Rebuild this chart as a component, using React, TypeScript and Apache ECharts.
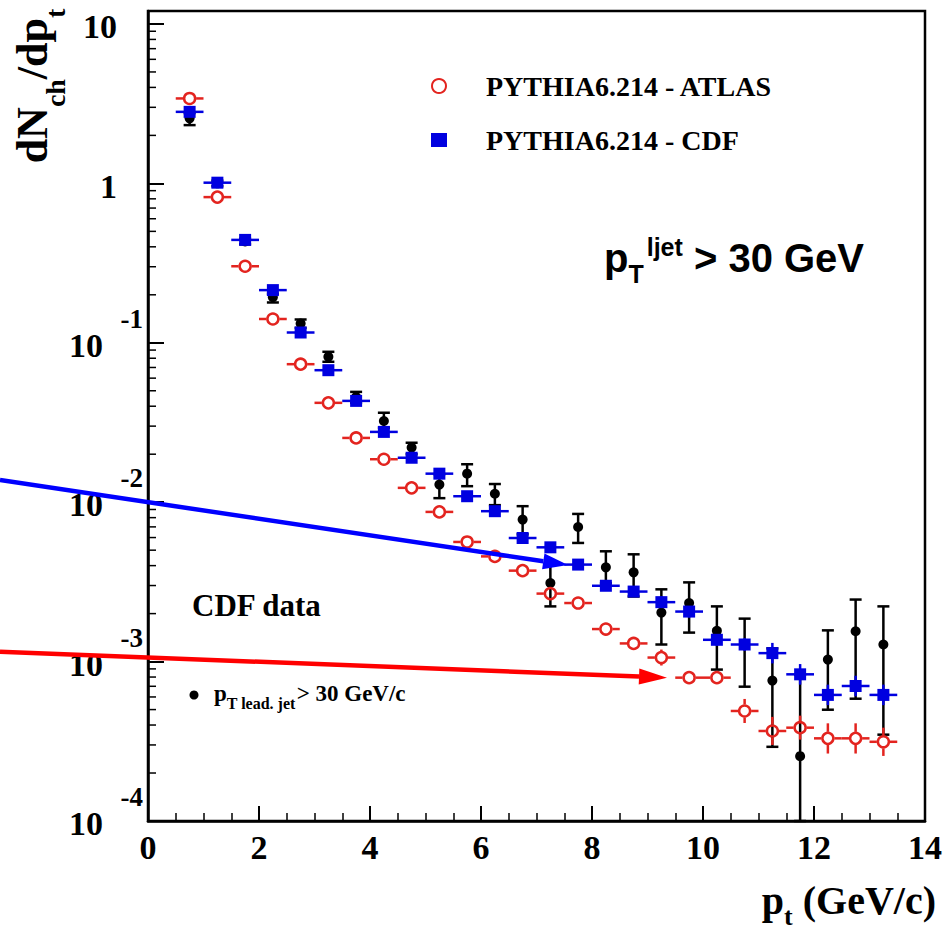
import React, { useEffect, useRef } from "react";
import * as echarts from "echarts";

// ---------------- data ----------------
const binCenters = [0.75, 1.25, 1.75, 2.25, 2.75, 3.25, 3.75, 4.25, 4.75, 5.25, 5.75, 6.25, 6.75, 7.25, 7.75, 8.25, 8.75, 9.25, 9.75, 10.25, 10.75, 11.25, 11.75, 12.25, 12.75, 13.25];
const binHalfWidth = 0.25;

// PYTHIA6.214 - ATLAS (red open circles)
const atlasValues = [3.41, 0.82, 0.302, 0.141, 0.0734, 0.042, 0.0253, 0.0186, 0.0123, 0.00869, 0.00563, 0.00457, 0.00372, 0.00267, 0.00233, 0.0016, 0.0013, 0.00106, 0.000793, 0.000793, 0.00049, 0.000367, 0.000385, 0.00033, 0.00033, 0.000314];
const atlasLow = [3.28, 0.79, 0.29, 0.136, 0.0705, 0.0403, 0.0243, 0.0178, 0.0118, 0.00832, 0.00537, 0.00434, 0.00352, 0.00245, 0.00216, 0.00147, 0.00119, 0.000945, 0.000728, 0.000728, 0.000412, 0.0003, 0.000324, 0.000265, 0.000265, 0.000256];
const atlasHigh = [3.55, 0.85, 0.315, 0.146, 0.0765, 0.0438, 0.0264, 0.0194, 0.0128, 0.00908, 0.0059, 0.00481, 0.00393, 0.0029, 0.00251, 0.00174, 0.00142, 0.00119, 0.000864, 0.000864, 0.000583, 0.00045, 0.000458, 0.00041, 0.00041, 0.000385];

// PYTHIA6.214 - CDF (blue squares)
const cdfMcValues = [2.81, 1.01, 0.442, 0.214, 0.116, 0.0673, 0.0432, 0.0276, 0.019, 0.0151, 0.0109, 0.00878, 0.00596, 0.00521, 0.00406, 0.00299, 0.00275, 0.00236, 0.00206, 0.00137, 0.00128, 0.00113, 0.000832, 0.000618, 0.000703, 0.000618];
const cdfMcLow = [2.73, 0.98, 0.429, 0.208, 0.113, 0.0653, 0.0419, 0.0268, 0.0184, 0.0147, 0.0106, 0.00852, 0.00579, 0.00506, 0.00394, 0.0029, 0.00267, 0.00217, 0.00189, 0.00126, 0.00117, 0.000974, 0.000717, 0.000533, 0.000606, 0.000533];
const cdfMcHigh = [2.89, 1.04, 0.455, 0.22, 0.119, 0.0693, 0.0445, 0.0284, 0.0196, 0.0156, 0.0112, 0.00904, 0.00614, 0.00537, 0.00418, 0.00308, 0.00283, 0.00257, 0.00225, 0.00149, 0.0014, 0.00131, 0.000965, 0.000717, 0.000815, 0.000717];

// CDF data (black dots)
const cdfDataValues = [2.56, 1.0, 0.432, 0.193, 0.132, 0.0816, 0.0457, 0.0323, 0.022, 0.0129, 0.0151, 0.0113, 0.00778, 0.00311, 0.00699, 0.0039, 0.00363, 0.00203, 0.00233, 0.00156, 0.00128, 0.00076, 0.000255, 0.00103, 0.00155, 0.00128];
const cdfDataLow = [2.32, 0.96, 0.415, 0.179, 0.124, 0.076, 0.042, 0.0293, 0.02, 0.0106, 0.0126, 0.00958, 0.00629, 0.00222, 0.00555, 0.0031, 0.00256, 0.00128, 0.00152, 0.000891, 0.000696, 0.000292, 0.0001, 0.000499, 0.000585, 0.000348];
const cdfDataHigh = [2.76, 1.04, 0.45, 0.203, 0.14, 0.0878, 0.0492, 0.0364, 0.0236, 0.015, 0.0173, 0.013, 0.00944, 0.00407, 0.00844, 0.00492, 0.00471, 0.00284, 0.00314, 0.00222, 0.00186, 0.00121, 0.000828, 0.00157, 0.00245, 0.00222];

const legendNames = ["PYTHIA6.214 - ATLAS", "PYTHIA6.214 - CDF"];
const dataName = "CDF data";
const xMin = 0;
const xMax = 14;
const xInterval = 2;
const yMin = 1e-4;
const yMax = 12.06;
const yExponentTicks = [-1, -2, -3, -4];
const minorDecades = [-4, -3, -2, -1, 0];
const minorMultipliers = [2, 3, 4, 5, 6, 7, 8, 9];

// ---------------- styles ----------------
const RED = "#e3241f";
const BLUE = "#0000e0";
const BLACK = "#000000";
const SERIF = "Liberation Serif";
const SANS = "Liberation Sans";

function errorSeries(name: string, values: number[], lows: number[], highs: number[], color: string, hbar: boolean, cap: number, gap: number) {
  return {
    type: "custom",
    name,
    silent: true,
    clip: false,
    data: binCenters.map((x, i) => [x, values[i], lows[i], highs[i]]),
    encode: { x: 0, y: 1 },
    renderItem: (params: any, api: any) => {
      const x = api.value(0);
      const v = api.value(1);
      const lo = api.value(2);
      const hi = api.value(3);
      const c = api.coord([x, v]);
      const t = api.coord([x, hi]);
      const b = api.coord([x, lo]);
      const style = { stroke: color, lineWidth: 2.5 };
      const ch: any[] = [];
      if (hbar) {
        const l = api.coord([x - binHalfWidth, v]);
        const r = api.coord([x + binHalfWidth, v]);
        ch.push({ type: "line", shape: { x1: l[0], y1: c[1], x2: c[0] - gap, y2: c[1] }, style });
        ch.push({ type: "line", shape: { x1: c[0] + gap, y1: c[1], x2: r[0], y2: c[1] }, style });
      }
      if (t[1] < c[1] - gap) ch.push({ type: "line", shape: { x1: c[0], y1: c[1] - gap, x2: c[0], y2: t[1] }, style });
      if (b[1] > c[1] + gap) ch.push({ type: "line", shape: { x1: c[0], y1: c[1] + gap, x2: c[0], y2: b[1] }, style });
      if (cap > 0) {
        ch.push({ type: "line", shape: { x1: c[0] - cap, y1: t[1], x2: c[0] + cap, y2: t[1] }, style });
        ch.push({ type: "line", shape: { x1: c[0] - cap, y1: b[1], x2: c[0] + cap, y2: b[1] }, style });
      }
      return { type: "group", children: ch };
    },
    z: 3,
  };
}

function arrow(x1: number, y1: number, x2: number, y2: number, color: string, headLen: number, headHalf: number, width: number) {
  const dx = x2 - x1;
  const dy = y2 - y1;
  const len = Math.sqrt(dx * dx + dy * dy);
  const ux = dx / len;
  const uy = dy / len;
  const nx = -uy;
  const ny = ux;
  const bx = x2 - ux * headLen;
  const by = y2 - uy * headLen;
  return [
    { type: "line", shape: { x1, y1, x2: bx, y2: by }, style: { stroke: color, lineWidth: width }, z: 100 },
    {
      type: "polygon",
      shape: { points: [[x2, y2], [bx + nx * headHalf, by + ny * headHalf], [bx - nx * headHalf, by - ny * headHalf]] },
      style: { fill: color },
      z: 100,
    },
  ];
}

function yLabel(v: number) {
  const l = Math.log10(v);
  const e = Math.round(l);
  if (Math.abs(l - e) > 1e-6) return "";
  if (e === 1) return "{plain|10}";
  if (e === 0) return "{plain|1}";
  return "{base|10}";
}

export default function App() {
  const ref = useRef<HTMLDivElement>(null);
  useEffect(() => {
    if (!ref.current) return;
    const chart = echarts.init(ref.current, null, { renderer: "svg" });
    const minorData: number[][] = [];
    minorDecades.forEach((d) => minorMultipliers.forEach((m) => minorData.push([0, m * Math.pow(10, d)])));

    const option: any = {
      animation: false,
      backgroundColor: "#ffffff",
      textStyle: { fontFamily: SERIF },
      grid: {
        left: 148,
        right: 24,
        top: 11,
        bottom: 111,
        show: true,
        borderColor: BLACK,
        borderWidth: 2.5,
        backgroundColor: "transparent",
        outerBoundsMode: "none",
      },
      legend: {
        show: true,
        orient: "vertical",
        left: 426,
        top: 67,
        itemWidth: 16,
        itemHeight: 14,
        itemGap: 26,
        selectedMode: false,
        data: legendNames,
        textStyle: { fontFamily: SERIF, fontWeight: "bold", fontSize: 28, color: BLACK, padding: [0, 0, 0, 34] },
      },
      xAxis: {
        type: "value",
        min: xMin,
        max: xMax,
        interval: xInterval,
        axisLine: { show: true, lineStyle: { color: BLACK, width: 2.5 } },
        axisTick: { show: true, inside: true, length: 15, lineStyle: { color: BLACK, width: 2 } },
        minorTick: { show: true, splitNumber: 4, length: 8, lineStyle: { color: BLACK, width: 1.5 } },
        splitLine: { show: false },
        minorSplitLine: { show: false },
        axisLabel: { margin: 9, fontSize: 34, fontFamily: SERIF, fontWeight: "bold", color: BLACK },
      },
      yAxis: {
        type: "log",
        logBase: 10,
        min: yMin,
        max: yMax,
        axisLine: { show: true, lineStyle: { color: BLACK, width: 2.5 } },
        axisTick: { show: true, inside: true, length: 16, lineStyle: { color: BLACK, width: 2 } },
        minorTick: { show: false },
        splitLine: { show: false },
        axisLabel: {
          margin: 5,
          formatter: yLabel,
          fontFamily: SERIF,
          fontWeight: "bold",
          color: BLACK,
          fontSize: 34,
          rich: {
            plain: { fontSize: 34, fontFamily: SERIF, fontWeight: "bold", color: BLACK, padding: [6, 26, 0, 0] },
            base: { fontSize: 34, fontFamily: SERIF, fontWeight: "bold", color: BLACK, padding: [5, 40, 0, 0] },
          },
        },
      },
      series: [
        {
          type: "custom",
          name: "minor-ticks",
          silent: true,
          clip: false,
          data: minorData,
          encode: { x: 0, y: 1 },
          renderItem: (params: any, api: any) => {
            const p = api.coord([api.value(0), api.value(1)]);
            return { type: "line", shape: { x1: p[0], y1: p[1], x2: p[0] + 8, y2: p[1] }, style: { stroke: BLACK, lineWidth: 1.5 } };
          },
        },
        {
          type: "custom",
          name: "y-exponents",
          silent: true,
          clip: false,
          data: yExponentTicks.map((e) => [0, Math.pow(10, e), e]),
          encode: { x: 0, y: 1 },
          renderItem: (params: any, api: any) => {
            const p = api.coord([api.value(0), api.value(1)]);
            return {
              type: "text",
              x: p[0] - 5,
              y: p[1] - 24,
              style: {
                text: String(api.value(2)),
                fontSize: 27,
                fontFamily: SERIF,
                fontWeight: "bold",
                fill: BLACK,
                align: "right",
                verticalAlign: "middle",
                textAlign: "right",
                textVerticalAlign: "middle",
              },
            };
          },
        },
        errorSeries(dataName + " errors", cdfDataValues, cdfDataLow, cdfDataHigh, BLACK, false, 6, 0),
        {
          type: "scatter",
          name: dataName,
          symbol: "circle",
          symbolSize: 10,
          itemStyle: { color: BLACK, opacity: 1 },
          data: binCenters.map((x, i) => [x, cdfDataValues[i]]),
          z: 4,
        },
        errorSeries(legendNames[0] + " errors", atlasValues, atlasLow, atlasHigh, RED, true, 0, 6.5),
        {
          type: "scatter",
          name: legendNames[0],
          symbol: "circle",
          symbolSize: 11,
          itemStyle: { color: "rgba(255,255,255,0)", borderColor: RED, borderWidth: 2.5, opacity: 1 },
          data: binCenters.map((x, i) => [x, atlasValues[i]]),
          z: 5,
        },
        errorSeries(legendNames[1] + " errors", cdfMcValues, cdfMcLow, cdfMcHigh, BLUE, true, 0, 0),
        {
          type: "scatter",
          name: legendNames[1],
          symbol: "rect",
          symbolSize: 12,
          itemStyle: { color: BLUE, opacity: 1 },
          data: binCenters.map((x, i) => [x, cdfMcValues[i]]),
          z: 6,
        },
      ],
      graphic: [
        // y axis title
        {
          type: "text",
          x: 10,
          y: 86,
          rotation: Math.PI / 2,
          style: {
            text: "{m|dN}{s|ch}{m|/dp}{s|t}",
            x: 0,
            y: 0,
            align: "center",
            verticalAlign: "top",
            textAlign: "center",
            textVerticalAlign: "top",
            rich: {
              m: { fontSize: 44, fontFamily: SERIF, fontWeight: "bold", fill: BLACK, verticalAlign: "top" },
              s: { fontSize: 28, fontFamily: SERIF, fontWeight: "bold", fill: BLACK, verticalAlign: "top", padding: [31, 0, 0, 0] },
            },
          },
        },
        // x axis title
        {
          type: "text",
          x: 936,
          y: 880,
          style: {
            text: "{m|p}{s|t}{m| (GeV/c)}",
            x: 0,
            y: 0,
            align: "right",
            verticalAlign: "top",
            textAlign: "right",
            textVerticalAlign: "top",
            rich: {
              m: { fontSize: 40, fontFamily: SERIF, fontWeight: "bold", fill: BLACK, verticalAlign: "top" },
              s: { fontSize: 26, fontFamily: SERIF, fontWeight: "bold", fill: BLACK, verticalAlign: "top", padding: [23, 0, 0, 0] },
            },
          },
        },
        // jet pT cut
        {
          type: "text",
          x: 604,
          y: 234.8,
          style: {
            text: "{u|p}{b|T}{a|ljet}{u| > 30 GeV}",
            x: 0,
            y: 0,
            align: "left",
            verticalAlign: "top",
            textAlign: "left",
            textVerticalAlign: "top",
            rich: {
              u: { fontSize: 40, fontFamily: SANS, fontWeight: "bold", fill: BLACK, verticalAlign: "top", padding: [3.3, 0, 0, 0] },
              b: { fontSize: 25, fontFamily: SANS, fontWeight: "bold", fill: BLACK, verticalAlign: "top", padding: [27, 0, 0, 0] },
              a: { fontSize: 25, fontFamily: SANS, fontWeight: "bold", fill: BLACK, verticalAlign: "top", padding: [0, 0, 0, 3] },
            },
          },
        },
        // CDF data label
        {
          type: "text",
          x: 192,
          y: 605,
          style: {
            text: "CDF data",
            x: 0,
            y: 0,
            fontSize: 31,
            fontFamily: SERIF,
            fontWeight: "bold",
            fill: BLACK,
            align: "left",
            verticalAlign: "middle",
            textAlign: "left",
            textVerticalAlign: "middle",
          },
        },
        { type: "circle", shape: { cx: 194, cy: 695, r: 4.5 }, style: { fill: BLACK } },
        {
          type: "text",
          x: 214,
          y: 681.7,
          style: {
            text: "{m|p}{s|T lead. jet}{n|> 30 GeV/c}",
            x: 0,
            y: 0,
            align: "left",
            verticalAlign: "top",
            textAlign: "left",
            textVerticalAlign: "top",
            rich: {
              m: { fontSize: 23, fontFamily: SERIF, fontWeight: "bold", fill: BLACK, verticalAlign: "top" },
              n: { fontSize: 23, fontFamily: SERIF, fontWeight: "bold", fill: BLACK, verticalAlign: "top", padding: [0, 0, 0, 1] },
              s: { fontSize: 16, fontFamily: SERIF, fontWeight: "bold", fill: BLACK, verticalAlign: "top", padding: [13.9, 0, 0, 0] },
            },
          },
        },
        ...arrow(0, 480, 568, 565, "#0000ff", 25, 8, 4.5),
        ...arrow(0, 651.7, 667, 677.7, "#ff0000", 28, 8, 4.5),
      ],
    };
    chart.setOption(option);
    return () => chart.dispose();
  }, []);
  return (
    <div
      ref={ref}
      style={{ position: "fixed", left: 0, top: 0, width: 949, height: 932, background: "#ffffff" }}
    />
  );
}
